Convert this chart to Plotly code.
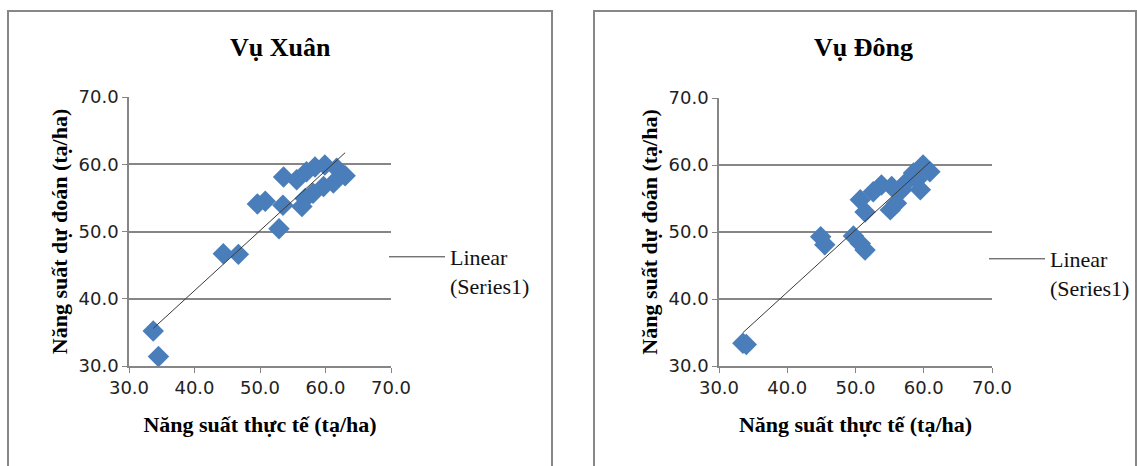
import numpy as np
import plotly.graph_objects as go

W, H = 1137, 466

# Vụ Xuân: actual vs. predicted yield (tạ/ha)
xuan_actual = [33.7, 34.5, 44.4, 46.7, 49.6, 50.8, 52.9, 53.5, 53.6, 55.6, 56.4,
               56.9, 57.1, 58.1, 58.4, 59.7, 59.9, 61.2, 61.7, 63.0]
xuan_pred = [35.2, 31.4, 46.7, 46.6, 54.1, 54.5, 50.4, 53.9, 58.1, 57.7, 53.7,
             54.9, 58.9, 55.7, 59.6, 56.7, 59.9, 57.2, 59.4, 58.3]

# Vụ Đông: actual vs. predicted yield (tạ/ha)
dong_actual = [33.5, 34.0, 44.9, 45.5, 49.7, 50.7, 51.4, 50.7, 51.4, 52.6, 53.8,
               55.1, 56.0, 55.3, 56.8, 57.5, 58.5, 59.0, 59.5, 59.9, 60.9]
dong_pred = [33.4, 33.2, 49.3, 48.1, 49.4, 48.3, 47.3, 54.8, 53.0, 56.0, 57.0,
             53.3, 54.3, 56.8, 56.3, 57.5, 58.8, 57.8, 56.3, 60.0, 59.0]

panel_titles = ["Vụ Xuân", "Vụ Đông"]
x_title = "Năng suất thực tế (tạ/ha)"
y_title = "Năng suất dự đoán (tạ/ha)"
trend_name = "Linear<br>(Series1)"
tick_vals = [30, 40, 50, 60, 70]

BLUE = "#4A7EBB"
GRID = "#868686"
SERIF = "Liberation Serif"
SANS = "DejaVu Sans"


def px(x):
    return x / W


def py(y):
    return 1 - y / H


fig = go.Figure()

panels = [
    dict(x=xuan_actual, y=xuan_pred, xa="x", ya="y", legend="legend",
         xdom=(129, 391), ydom=(97, 366), box=(8, 552), title_x=280,
         leg=(384, 236)),
    dict(x=dong_actual, y=dong_pred, xa="x2", ya="y2", legend="legend2",
         xdom=(719, 992), ydom=(98, 366), box=(594, 1136), title_x=864,
         leg=(984, 238)),
]

for i, p in enumerate(panels):
    xs = np.array(p["x"])
    ys = np.array(p["y"])
    fig.add_trace(go.Scatter(
        x=xs, y=ys, mode="markers", xaxis=p["xa"], yaxis=p["ya"],
        marker=dict(symbol="diamond", size=16.5, color=BLUE,
                    line=dict(width=0)),
        showlegend=False, hoverinfo="x+y"))
    # least-squares trend line across the observed range
    slope, intercept = np.polyfit(xs, ys, 1)
    tx = np.array([xs.min(), xs.max()])
    fig.add_trace(go.Scatter(
        x=tx, y=slope * tx + intercept, mode="lines", xaxis=p["xa"],
        yaxis=p["ya"], line=dict(color="#3a3a3a", width=1),
        name=trend_name, legend=p["legend"], showlegend=True))

    suffix = "" if i == 0 else "2"
    axis_common = dict(range=[30, 70], tickvals=tick_vals, tickformat=".1f",
                       ticks="outside", ticklen=5, tickcolor=GRID,
                       showline=True, linecolor=GRID, linewidth=1.5,
                       zeroline=False, fixedrange=True, automargin=False,
                       tickfont=dict(family=SANS, size=18, color="#222"))
    fig.update_layout(**{
        "xaxis" + suffix: dict(
            axis_common, domain=[px(p["xdom"][0]), px(p["xdom"][1])],
            anchor="y" + suffix, showgrid=False,
            title=dict(text=x_title, standoff=19,
                       font=dict(family=SERIF, size=22, color="#000",
                                 weight="bold"))),
        "yaxis" + suffix: dict(
            axis_common, domain=[py(p["ydom"][1]), py(p["ydom"][0])],
            anchor="x" + suffix, showgrid=True, gridcolor=GRID,
            gridwidth=1.5,
            title=dict(text=y_title, standoff=5,
                       font=dict(family=SERIF, size=22, color="#000",
                                 weight="bold"))),
        p["legend"]: dict(
            x=px(p["leg"][0]), y=py(p["leg"][1]), xanchor="left",
            yanchor="top", valign="top", bgcolor="rgba(0,0,0,0)",
            borderwidth=0, itemwidth=56, tracegroupgap=0,
            font=dict(family=SERIF, size=22, color="#111")),
    })

    # chart frame
    fig.add_shape(type="rect", xref="paper", yref="paper",
                  x0=px(p["box"][0]), x1=px(p["box"][1]),
                  y0=py(11), y1=py(520),
                  line=dict(color="#878787", width=2),
                  fillcolor="rgba(0,0,0,0)", layer="below")
    fig.add_annotation(text=panel_titles[i], xref="paper", yref="paper",
                       x=px(p["title_x"]), y=py(48), showarrow=False,
                       xanchor="center", yanchor="middle",
                       font=dict(family=SERIF, size=26, color="#000",
                                 weight="bold"))

fig.update_layout(width=W, height=H,
                  margin=dict(l=0, r=0, t=0, b=0, autoexpand=False),
                  paper_bgcolor="white", plot_bgcolor="white")

fig.write_html("out.html")
